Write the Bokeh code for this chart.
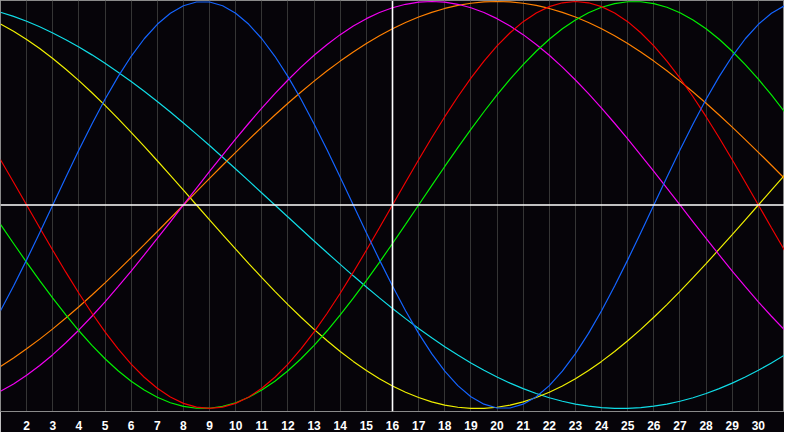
from bokeh.plotting import figure
from bokeh.models import Range1d, FixedTicker, Span
from bokeh.embed import file_html
from bokeh.resources import INLINE

# sample positions: every half day from day 1 to day 31
days = [h / 2 for h in range(2, 63)]
tick_days = list(range(2, 31))
today = 16

blue = [-0.5197, -0.3984, -0.2698, -0.1362, 0.0, 0.1362, 0.2698, 0.3984, 0.5197, 0.6311,
        0.7308, 0.8170, 0.8879, 0.9423, 0.9791, 0.9977, 0.9977, 0.9791, 0.9423, 0.8879,
        0.8170, 0.7308, 0.6311, 0.5197, 0.3984, 0.2698, 0.1362, 0.0, -0.1362, -0.2698,
        -0.3984, -0.5197, -0.6311, -0.7308, -0.8170, -0.8879, -0.9423, -0.9791, -0.9977, -0.9977,
        -0.9791, -0.9423, -0.8879, -0.8170, -0.7308, -0.6311, -0.5197, -0.3984, -0.2698, -0.1362,
        0.0, 0.1362, 0.2698, 0.3984, 0.5197, 0.6311, 0.7308, 0.8170, 0.8879, 0.9423,
        0.9791]
red = [0.2225, 0.1120, 0.0, -0.1120, -0.2225, -0.3303, -0.4339, -0.5320, -0.6235, -0.7071,
       -0.7818, -0.8467, -0.9010, -0.9439, -0.9749, -0.9937, -1.0, -0.9937, -0.9749, -0.9439,
       -0.9010, -0.8467, -0.7818, -0.7071, -0.6235, -0.5320, -0.4339, -0.3303, -0.2225, -0.1120,
       0.0, 0.1120, 0.2225, 0.3303, 0.4339, 0.5320, 0.6235, 0.7071, 0.7818, 0.8467,
       0.9010, 0.9439, 0.9749, 0.9937, 1.0, 0.9937, 0.9749, 0.9439, 0.9010, 0.8467,
       0.7818, 0.7071, 0.6235, 0.5320, 0.4339, 0.3303, 0.2225, 0.1120, 0.0, -0.1120,
       -0.2225]
green = [-0.0951, -0.1893, -0.2817, -0.3717, -0.4582, -0.5406, -0.6182, -0.6901, -0.7557, -0.8146,
         -0.8660, -0.9096, -0.9450, -0.9718, -0.9898, -0.9989, -0.9989, -0.9898, -0.9718, -0.9450,
         -0.9096, -0.8660, -0.8146, -0.7557, -0.6901, -0.6182, -0.5406, -0.4582, -0.3717, -0.2817,
         -0.1893, -0.0951, 0.0, 0.0951, 0.1893, 0.2817, 0.3717, 0.4582, 0.5406, 0.6182,
         0.6901, 0.7557, 0.8146, 0.8660, 0.9096, 0.9450, 0.9718, 0.9898, 0.9989, 0.9989,
         0.9898, 0.9718, 0.9450, 0.9096, 0.8660, 0.8146, 0.7557, 0.6901, 0.6182, 0.5406,
         0.4582]
magenta = [-0.9158, -0.8795, -0.8372, -0.7891, -0.7357, -0.6773, -0.6142, -0.5469, -0.4759, -0.4017,
           -0.3247, -0.2455, -0.1646, -0.0826, 0.0, 0.0826, 0.1646, 0.2455, 0.3247, 0.4017,
           0.4759, 0.5469, 0.6142, 0.6773, 0.7357, 0.7891, 0.8372, 0.8795, 0.9158, 0.9458,
           0.9694, 0.9864, 0.9966, 1.0, 0.9966, 0.9864, 0.9694, 0.9458, 0.9158, 0.8795,
           0.8372, 0.7891, 0.7357, 0.6773, 0.6142, 0.5469, 0.4759, 0.4017, 0.3247, 0.2455,
           0.1646, 0.0826, 0.0, -0.0826, -0.1646, -0.2455, -0.3247, -0.4017, -0.4759, -0.5469,
           -0.6142]
yellow = [0.8894, 0.8536, 0.8133, 0.7687, 0.7199, 0.6673, 0.6112, 0.5518, 0.4894, 0.4244,
          0.3572, 0.2881, 0.2174, 0.1456, 0.0730, 0.0, -0.0730, -0.1456, -0.2174, -0.2881,
          -0.3572, -0.4244, -0.4894, -0.5518, -0.6112, -0.6673, -0.7199, -0.7687, -0.8133, -0.8536,
          -0.8894, -0.9203, -0.9464, -0.9675, -0.9834, -0.9940, -0.9993, -0.9993, -0.9940, -0.9834,
          -0.9675, -0.9464, -0.9203, -0.8894, -0.8536, -0.8133, -0.7687, -0.7199, -0.6673, -0.6112,
          -0.5518, -0.4894, -0.4244, -0.3572, -0.2881, -0.2174, -0.1456, -0.0730, 0.0, 0.0730,
          0.1456]
orange = [-0.7934, -0.7518, -0.7071, -0.6593, -0.6088, -0.5556, -0.5, -0.4423, -0.3827, -0.3214,
          -0.2588, -0.1951, -0.1305, -0.0654, 0.0, 0.0654, 0.1305, 0.1951, 0.2588, 0.3214,
          0.3827, 0.4423, 0.5, 0.5556, 0.6088, 0.6593, 0.7071, 0.7518, 0.7934, 0.8315,
          0.8660, 0.8969, 0.9239, 0.9469, 0.9659, 0.9808, 0.9914, 0.9979, 1.0, 0.9979,
          0.9914, 0.9808, 0.9659, 0.9469, 0.9239, 0.8969, 0.8660, 0.8315, 0.7934, 0.7518,
          0.7071, 0.6593, 0.6088, 0.5556, 0.5, 0.4423, 0.3827, 0.3214, 0.2588, 0.1951,
          0.1305]
cyan = [0.9473, 0.9267, 0.9028, 0.8757, 0.8456, 0.8125, 0.7765, 0.7378, 0.6966, 0.6529,
        0.6068, 0.5586, 0.5085, 0.4566, 0.4031, 0.3482, 0.2921, 0.2349, 0.1769, 0.1183,
        0.0592, 0.0, -0.0592, -0.1183, -0.1769, -0.2349, -0.2921, -0.3482, -0.4031, -0.4566,
        -0.5085, -0.5586, -0.6068, -0.6529, -0.6966, -0.7378, -0.7765, -0.8125, -0.8456, -0.8757,
        -0.9028, -0.9267, -0.9473, -0.9646, -0.9786, -0.9890, -0.9960, -0.9996, -0.9996, -0.9960,
        -0.9890, -0.9786, -0.9646, -0.9473, -0.9267, -0.9028, -0.8757, -0.8456, -0.8125, -0.7765,
        -0.7378]

series = [
    (cyan, "#10dce6"),
    (yellow, "#f0f000"),
    (orange, "#ff8000"),
    (magenta, "#f000f0"),
    (green, "#00f000"),
    (red, "#f00000"),
    (blue, "#1464ff"),
]

BG = "#060409"

p = figure(width=784, height=432, output_backend="svg", toolbar_location=None,
           x_range=Range1d(1, 31), y_range=Range1d(-1.015, 1.005),
           y_axis_location=None,
           min_border_left=0, min_border_right=0, min_border_top=0, min_border_bottom=0)
p.background_fill_color = BG
p.border_fill_color = BG
p.outline_line_color = "#8a8a8a"
p.outline_line_width = 1

p.xaxis.ticker = FixedTicker(ticks=tick_days)
p.xaxis.major_tick_line_color = None
p.xaxis.minor_tick_line_color = None
p.xaxis.axis_line_color = "#8a8a8a"
p.xaxis.major_label_text_color = "white"
p.xaxis.major_label_text_font = "Liberation Sans"
p.xaxis.major_label_text_font_style = "bold"
p.xaxis.major_label_text_font_size = "12px"
p.xaxis.major_label_standoff = 3

p.xgrid.ticker = FixedTicker(ticks=tick_days)
p.xgrid.grid_line_color = "#353535"
p.xgrid.grid_line_width = 1
p.ygrid.visible = False

p.add_layout(Span(location=0, dimension="width", line_color="white", line_width=1.6))
p.add_layout(Span(location=today, dimension="height", line_color="white", line_width=1.6))

for vals, col in series:
    p.line(days, vals, line_color=col, line_width=1.2)

open("out.html", "w").write(file_html(p, INLINE))
